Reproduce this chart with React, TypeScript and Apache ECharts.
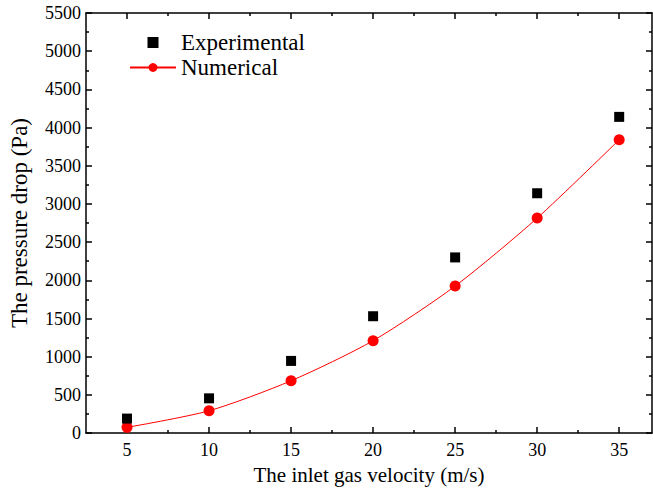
import React, { useEffect, useRef } from "react";
import * as echarts from "echarts";

const velocities = [5, 10, 15, 20, 25, 30, 35];
const experimental = [190, 455, 945, 1530, 2300, 3140, 4140];
const numerical = [75, 292, 685, 1210, 1925, 2815, 3840];
const xMajorTicks = [5, 10, 15, 20, 25, 30, 35];
const xMinorTicks = [7.5, 12.5, 17.5, 22.5, 27.5, 32.5];

const FONT = '"Liberation Serif", "Times New Roman", serif';

export default function App() {
  const ref = useRef<HTMLDivElement>(null);
  useEffect(() => {
    document.body.style.margin = "0";
    if (!ref.current) return;
    const chart = echarts.init(ref.current, undefined, { renderer: "svg" });
    const lineColor = "#000";
    const baseX = {
      type: "value",
      min: 2.5,
      max: 37,
      splitLine: { show: false },
    };
    const labelStyle = {
      fontFamily: FONT,
      fontSize: 18,
      color: "#000",
      formatter: (v: number) => "{t|" + String(v) + "}",
      rich: { t: { fontFamily: FONT, fontSize: 18, color: "#000" } },
    };
    chart.setOption({
      animation: false,
      backgroundColor: "#fff",
      textStyle: { fontFamily: FONT },
      grid: { left: 85, right: 1, top: 13, bottom: 56, containLabel: false },
      legend: {
        orient: "vertical",
        left: 124,
        top: 26,
        itemWidth: 46,
        itemHeight: 11,
        itemGap: 2,
        textStyle: { fontFamily: FONT, fontSize: 23, color: "#000" },
        data: [
          { name: "Experimental", icon: "path://M0,0h10v10h-10z" },
          { name: "Numerical" },
        ],
      },
      xAxis: [
        {
          ...baseX,
          position: "bottom",
          axisLine: { show: true, lineStyle: { color: lineColor, width: 1.5 } },
          axisTick: {
            show: true,
            inside: true,
            length: 6,
            customValues: xMajorTicks,
            lineStyle: { color: lineColor, width: 1.5 },
          },
          axisLabel: {
            ...labelStyle,
            show: true,
            customValues: xMajorTicks,
            margin: 8,
          },
          name: "The inlet gas velocity (m/s)",
          nameLocation: "middle",
          nameGap: 27,
          nameTextStyle: { fontFamily: FONT, fontSize: 21, color: "#000" },
        },
        {
          ...baseX,
          position: "bottom",
          axisLine: { show: false },
          axisTick: {
            show: true,
            inside: true,
            length: 3,
            customValues: xMinorTicks,
            lineStyle: { color: lineColor, width: 1.5 },
          },
          axisLabel: { show: false },
        },
        {
          ...baseX,
          position: "top",
          axisLine: { show: true, lineStyle: { color: lineColor, width: 1.5 } },
          axisTick: {
            show: true,
            inside: true,
            length: 6,
            customValues: xMajorTicks,
            lineStyle: { color: lineColor, width: 1.5 },
          },
          axisLabel: { show: false },
        },
        {
          ...baseX,
          position: "top",
          axisLine: { show: false },
          axisTick: {
            show: true,
            inside: true,
            length: 3,
            customValues: xMinorTicks,
            lineStyle: { color: lineColor, width: 1.5 },
          },
          axisLabel: { show: false },
        },
      ],
      yAxis: [
        {
          type: "value",
          position: "left",
          min: 0,
          max: 5500,
          interval: 500,
          splitLine: { show: false },
          axisLine: { show: true, lineStyle: { color: lineColor, width: 1.5 } },
          axisTick: { show: true, inside: true, length: 6, lineStyle: { color: lineColor, width: 1.5 } },
          minorTick: { show: true, splitNumber: 2, length: 3, lineStyle: { color: lineColor, width: 1.5 } },
          axisLabel: { ...labelStyle, margin: 5 },
          name: "The pressure drop (Pa)",
          nameLocation: "middle",
          nameGap: 55,
          nameTextStyle: { fontFamily: FONT, fontSize: 23, color: "#000" },
        },
        {
          type: "value",
          position: "right",
          min: 0,
          max: 5500,
          interval: 500,
          splitLine: { show: false },
          axisLine: { show: true, lineStyle: { color: lineColor, width: 1.5 } },
          axisTick: { show: true, inside: true, length: 6, lineStyle: { color: lineColor, width: 1.5 } },
          minorTick: { show: true, splitNumber: 2, length: 3, lineStyle: { color: lineColor, width: 1.5 } },
          axisLabel: { show: false },
        },
      ],
      series: [
        {
          name: "Experimental",
          type: "scatter",
          xAxisIndex: 0,
          yAxisIndex: 0,
          symbol: "rect",
          symbolSize: 10,
          itemStyle: { color: "#000", opacity: 1 },
          data: velocities.map((v, i) => [v, experimental[i]]),
          z: 3,
        },
        {
          name: "Numerical",
          type: "line",
          xAxisIndex: 0,
          yAxisIndex: 0,
          symbol: "circle",
          symbolSize: 11,
          smooth: 0.25,
          itemStyle: { color: "#ff0000", opacity: 1 },
          lineStyle: { color: "#ff0000", width: 1 },
          data: velocities.map((v, i) => [v, numerical[i]]),
          z: 2,
        },
      ],
    });
    return () => chart.dispose();
  }, []);
  return <div ref={ref} style={{ width: 653, height: 490 }} />;
}
